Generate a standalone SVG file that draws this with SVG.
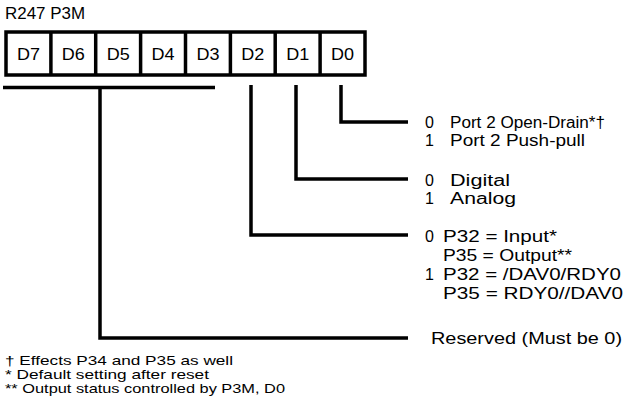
<svg xmlns="http://www.w3.org/2000/svg" width="635" height="402" viewBox="0 0 635 402">
<style>
text{font-family:"Liberation Sans",Arial,sans-serif;fill:#000}
.t{font-size:16px}
.c{font-size:16px}
.f{font-size:13px}
.ln{fill:none;stroke:#000;stroke-width:3.5;stroke-linecap:butt;stroke-linejoin:miter}
.box{fill:#fff;stroke:#000;stroke-width:3.5}
</style>
<rect width="635" height="402" fill="#fff"/>
<text class="t" x="5" y="19" textLength="80" lengthAdjust="spacingAndGlyphs">R247 P3M</text>
<g id="register">
<rect class="box" x="6" y="32" width="359" height="43"/>
<g class="ln">
<line x1="50.9" y1="32" x2="50.9" y2="75"/>
<line x1="95.7" y1="32" x2="95.7" y2="75"/>
<line x1="140.6" y1="32" x2="140.6" y2="75"/>
<line x1="185.5" y1="32" x2="185.5" y2="75"/>
<line x1="230.4" y1="32" x2="230.4" y2="75"/>
<line x1="275.2" y1="32" x2="275.2" y2="75"/>
<line x1="320.1" y1="32" x2="320.1" y2="75"/>
</g>
<text class="c" x="17" y="60" textLength="23" lengthAdjust="spacingAndGlyphs">D7</text>
<text class="c" x="61.8" y="60" textLength="23" lengthAdjust="spacingAndGlyphs">D6</text>
<text class="c" x="106.7" y="60" textLength="23" lengthAdjust="spacingAndGlyphs">D5</text>
<text class="c" x="151.5" y="60" textLength="23" lengthAdjust="spacingAndGlyphs">D4</text>
<text class="c" x="196.5" y="60" textLength="23" lengthAdjust="spacingAndGlyphs">D3</text>
<text class="c" x="241.3" y="60" textLength="23" lengthAdjust="spacingAndGlyphs">D2</text>
<text class="c" x="286.2" y="60" textLength="23" lengthAdjust="spacingAndGlyphs">D1</text>
<text class="c" x="331" y="60" textLength="23" lengthAdjust="spacingAndGlyphs">D0</text>
</g>
<g id="connectors">
<line class="ln" x1="3" y1="87.5" x2="215" y2="87.5"/>
<polyline class="ln" points="100,87.5 100,338 408,338"/>
<polyline class="ln" points="251,85 251,235 408,235"/>
<polyline class="ln" points="296,85 296,179 408,179"/>
<polyline class="ln" points="341,85 341,122 408,122"/>
</g>
<g id="d0-label">
<text class="t" x="425" y="128">0</text>
<text class="t" x="450" y="128" textLength="155" lengthAdjust="spacingAndGlyphs">Port 2 Open-Drain*†</text>
<text class="t" x="425" y="146">1</text>
<text class="t" x="450" y="146" textLength="135" lengthAdjust="spacingAndGlyphs">Port 2 Push-pull</text>
</g>
<g id="d1-label">
<text class="t" x="425" y="186">0</text>
<text class="t" x="450" y="186" textLength="60" lengthAdjust="spacingAndGlyphs">Digital</text>
<text class="t" x="425" y="204">1</text>
<text class="t" x="450" y="204" textLength="66" lengthAdjust="spacingAndGlyphs">Analog</text>
</g>
<g id="d2-label">
<text class="t" x="425" y="242">0</text>
<text class="t" x="443" y="242" textLength="114" lengthAdjust="spacingAndGlyphs">P32 = Input*</text>
<text class="t" x="443" y="261" textLength="129" lengthAdjust="spacingAndGlyphs">P35 = Output**</text>
<text class="t" x="425" y="280">1</text>
<text class="t" x="443" y="280" textLength="178" lengthAdjust="spacingAndGlyphs">P32 = /DAV0/RDY0</text>
<text class="t" x="443" y="299" textLength="180" lengthAdjust="spacingAndGlyphs">P35 = RDY0//DAV0</text>
</g>
<g id="reserved-label">
<text class="t" x="431" y="344" textLength="191" lengthAdjust="spacingAndGlyphs">Reserved (Must be 0)</text>
</g>
<g id="footnotes">
<text class="f" x="5" y="365" textLength="228" lengthAdjust="spacingAndGlyphs">† Effects P34 and P35 as well</text>
<text class="f" x="5" y="379" textLength="204" lengthAdjust="spacingAndGlyphs">* Default setting after reset</text>
<text class="f" x="5" y="393" textLength="280" lengthAdjust="spacingAndGlyphs">** Output status controlled by P3M, D0</text>
</g>
</svg>
